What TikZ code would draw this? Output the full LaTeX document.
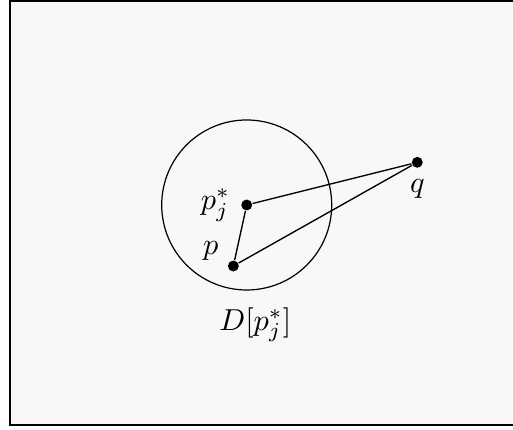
\documentclass[tikz,border=0pt]{standalone}
\usepackage{amsmath}
\usepackage{tikz}
\usetikzlibrary{positioning}
\definecolor{framefill}{HTML}{F8F8F8}
\tikzset{
  ptdot/.style={circle, fill=black, inner sep=0pt, minimum size=3.6pt},
  diskshape/.style={circle, draw, line width=0.4pt, inner sep=0pt, minimum size=1.972cm},
  segline/.style={line width=0.45pt},
  framebox/.style={draw, line width=0.7pt, fill=framefill},
}
\begin{document}
\begin{tikzpicture}
  \useasboundingbox (-2.862,-2.61) rectangle (3.089,2.378);
  \draw[framebox] (-2.746,-2.552) rectangle (3.4,2.366);
  % the disk around p_j^*
  \node[diskshape] (disk) at (0,0) {};
  \node[ptdot, label=left:$p_j^*$]  (pj) at (0,0) {};
  \node[ptdot, label={[yshift=-3pt]above left:$p$}] (p) at (-0.155,-0.708) {};
  \node[ptdot, label=below:$q$]     (q) at (1.979,0.495) {};
  \draw[segline] (pj) -- (q);
  \draw[segline] (p) -- (pj);
  \draw[segline] (p) -- (q);
  \node[below=0.7mm of disk.south, xshift=1mm] (dlabel) {$D[p_j^*]$};
\end{tikzpicture}
\end{document}
